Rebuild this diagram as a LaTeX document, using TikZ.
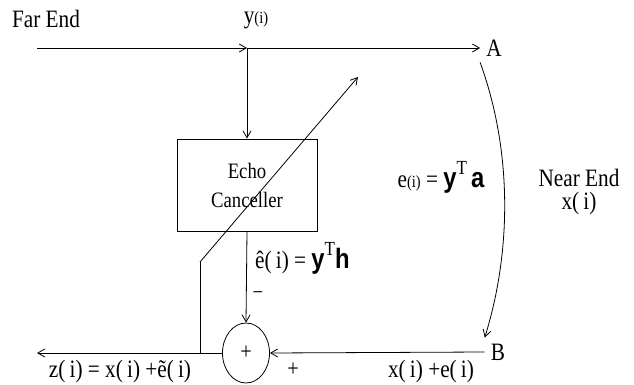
\documentclass[tikz,border=0pt]{standalone}
\usepackage{fontspec}
\setmainfont{Liberation Serif}[FakeStretch=0.85]
\setsansfont{Liberation Sans}[FakeStretch=0.85]
\usetikzlibrary{arrows.meta,shapes.geometric}

\newcommand{\argi}[1]{{\fontsize{17}{17}\selectfont #1}}
\newcommand{\vecb}[1]{{\fontsize{28}{28}\selectfont\sffamily\bfseries #1}}
\newcommand{\supT}{\raisebox{13pt}{\fontsize{20}{20}\selectfont T}}

\begin{document}
\begin{tikzpicture}[
  x=1pt, y=-1pt,
  box/.style={draw, line width=0.8pt, minimum width=140pt, minimum height=92pt,
              align=center, font=\fontsize{22}{29}\selectfont},
  adder/.style={draw, ellipse, line width=0.8pt, minimum width=47pt,
                minimum height=60pt, inner sep=0pt, font=\fontsize{24}{24}\selectfont},
  lbl/.style={font=\fontsize{25}{28}\selectfont, inner sep=1pt},
  pt/.style={font=\fontsize{25}{28}\selectfont, inner sep=6pt},
  arr/.style={-{Straight Barb[length=7pt,width=8pt]}, line width=0.8pt},
  ln/.style={line width=0.8pt}
]
\useasboundingbox (0,0) rectangle (634,385);

\coordinate (src) at (37,48);
\coordinate (tap) at (247,48);
\coordinate (adapt) at (200,353);
\coordinate (kink) at (200,262);
\coordinate (tip) at (358,77);
\coordinate (out) at (37,353);

\node[lbl] (farend) at (46,19) {Far End};
\node[lbl] (yi) at (256,20) {y\argi{(i)}};
\node[pt] (A) at (494,48) {A};
\node[pt] (B) at (498,352) {B};

\node[box] (ec) at (247,185) {Echo\\Canceller};
\node[adder] (sum) at (246,353) {+};

\draw[arr] (src) -- (tap);
\draw[arr] (tap) -- (A.west);
\draw[arr] (tap) -- (ec.north);
\draw[arr] (ec.south) -- (sum.north);
\draw[arr] (B.west) -- (sum.east);
\draw[arr] (sum.west) -- (out);
\draw[ln] (adapt) -- (kink);
\draw[arr] (kink) -- (tip);
\draw[arr] (A.south west) .. controls (512,150) and (512,250) .. (B.north west);

\node[lbl, anchor=base west] (ehat) at (254,268) {\^e(\,i) = \vecb{y}\supT\vecb{h}};
\node[lbl] (minus) at (258,296) {\fontsize{22}{22}\selectfont −};
\node[lbl] (plus) at (293,370) {\fontsize{24}{24}\selectfont +};
\node[lbl, anchor=base] (ei) at (441,187) {e\argi{(i)} = \vecb{y}\supT\,\vecb{a}};
\node[lbl, inner sep=0pt, anchor=base] (nearend) at (579,186) {Near End};
\node[lbl, inner sep=0pt, anchor=base] (xi) at (579,209) {x(\,i)};
\node[lbl, anchor=base] (zi) at (120,377) {z(\,i) = x(\,i) +\~e(\,i)};
\node[lbl, anchor=base] (xe) at (431,377) {x(\,i) +e(\,i)};

\end{tikzpicture}
\end{document}
